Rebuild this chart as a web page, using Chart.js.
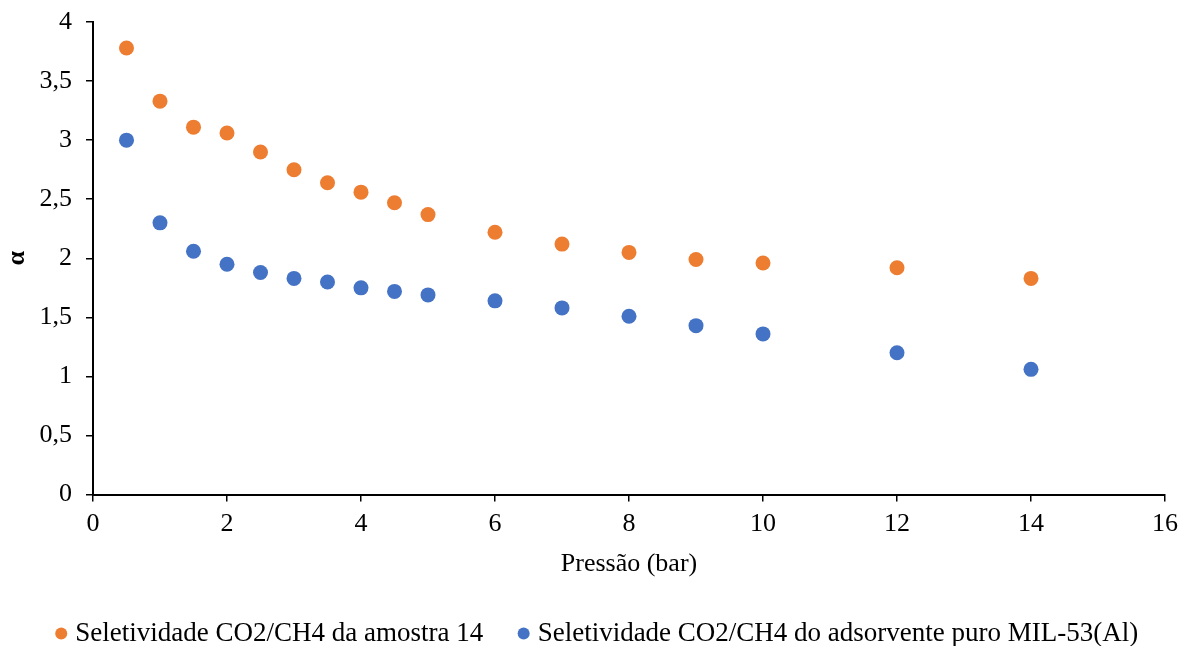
<!DOCTYPE html>
<html>
<head>
<meta charset="utf-8">
<script src="https://cdn.jsdelivr.net/npm/chart.js@4/dist/chart.umd.min.js"></script>
<style>
html,body{margin:0;padding:0;background:#fff;}
#wrap{width:1181px;height:646px;position:relative;}
</style>
</head>
<body>
<div id="wrap"><canvas id="c" width="1181" height="646"></canvas></div>
<script>
const pressure = [0.5, 1, 1.5, 2, 2.5, 3, 3.5, 4, 4.5, 5, 6, 7, 8, 9, 10, 12, 14];
const sample14 = [3.78, 3.33, 3.11, 3.06, 2.90, 2.75, 2.64, 2.56, 2.47, 2.37, 2.22, 2.12, 2.05, 1.99, 1.96, 1.92, 1.83];
const mil53 = [3.00, 2.30, 2.06, 1.95, 1.88, 1.83, 1.80, 1.75, 1.72, 1.69, 1.64, 1.58, 1.51, 1.43, 1.36, 1.20, 1.06];
const seriesNames = ["Seletividade CO2/CH4 da amostra 14", "Seletividade CO2/CH4 do adsorvente puro MIL-53(Al)"];
const xTitle = "Pressão (bar)";
const yTitle = "α";

const font = "'Liberation Serif', 'Times New Roman', serif";
const FS = 26;
Chart.defaults.font.family = font;
Chart.defaults.color = '#000';

const toPts = (ys) => pressure.map((x, i) => ({x: x, y: ys[i]}));

const shiftLegend = {
  id: 'shiftLegend',
  afterLayout(chart) {
    if (chart.legend) { chart.legend.left += 18; }
  }
};

new Chart(document.getElementById('c'), {
  type: 'scatter',
  data: {
    datasets: [
      {label: seriesNames[0], data: toPts(sample14), backgroundColor: '#ED7D31', borderColor: '#ED7D31', pointRadius: 7.5, pointHoverRadius: 7.5, borderWidth: 0},
      {label: seriesNames[1], data: toPts(mil53), backgroundColor: '#4472C4', borderColor: '#4472C4', pointRadius: 7.5, pointHoverRadius: 7.5, borderWidth: 0}
    ]
  },
  plugins: [shiftLegend],
  options: {
    responsive: false,
    animation: false,
    layout: {padding: {left: 0, right: 0, top: 0, bottom: -11}},
    plugins: {
      tooltip: {enabled: false},
      legend: {
        position: 'bottom',
        labels: {
          usePointStyle: true,
          pointStyle: 'circle',
          boxWidth: 1,
          boxHeight: 8.5,
          padding: 40,
          font: {size: 27, family: font},
          color: '#000'
        }
      }
    },
    scales: {
      x: {
        type: 'linear',
        min: 0, max: 16,
        ticks: {stepSize: 2, font: {size: FS}, color: '#000', padding: 7},
        grid: {display: true, drawOnChartArea: false, drawTicks: true, tickLength: 7, color: '#000', lineWidth: 1.5},
        border: {display: true, color: '#000', width: 2},
        title: {display: true, text: xTitle, font: {size: FS}, color: '#000', padding: {top: 2, bottom: 0}},
        afterFit: (scale) => { scale.paddingRight = 16; }
      },
      y: {
        type: 'linear',
        min: 0, max: 4,
        ticks: {stepSize: 0.5, font: {size: FS}, color: '#000', padding: 14,
          callback: (v) => String(v).replace('.', ',')},
        grid: {display: true, drawOnChartArea: false, drawTicks: true, tickLength: 7, color: '#000', lineWidth: 1.5},
        border: {display: true, color: '#000', width: 2},
        title: {display: true, text: yTitle, font: {size: FS, weight: 'bold'}, color: '#000', padding: {top: 2, bottom: 6}},
        afterFit: (scale) => { scale.width = 93; scale.paddingTop = 22; }
      }
    }
  }
});
</script>
</body>
</html>
